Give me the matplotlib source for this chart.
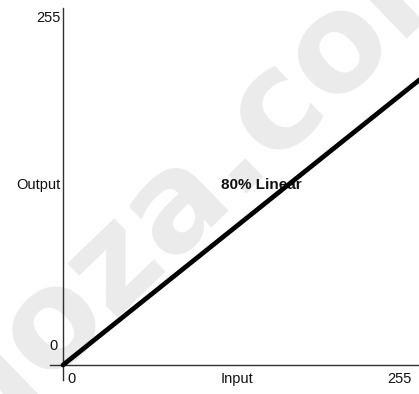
import matplotlib
matplotlib.use("Agg")
import matplotlib.pyplot as plt

# transfer curve: output = gain * input, clipped by the plot frame
input_range = [0, 255]
output_range = [0, 255]
gain = 0.80
curve_label = "80% Linear"
axis_names = ["Input", "Output"]

W, H, DPI = 419, 394, 100
px_per_unit = 347 / 255.0      # same scale on both axes
x0_px, y0_px = 63, 29          # where (0, 0) sits, pixels from left / bottom

fig = plt.figure(figsize=(W / DPI, H / DPI), dpi=DPI)
ax = fig.add_axes([0, 0, 1, 1])
ax.set_xlim(-x0_px / px_per_unit, (W - x0_px) / px_per_unit)
ax.set_ylim(-y0_px / px_per_unit, (H - y0_px) / px_per_unit)
ax.axis("off")

# faint watermark behind everything
ax.text(0.568, 0.503, "doza.com", transform=fig.transFigure, rotation=44,
        rotation_mode="anchor", ha="center", va="baseline",
        fontsize=98, fontweight="bold", color="#ebebeb",
        family="DejaVu Sans", zorder=0)

# axes drawn as plain lines through the origin
ax.plot([0, 0], [-11, 262], color="#303030", lw=1.0, zorder=2)
ax.plot([-9.5, 262], [0, 0], color="#303030", lw=1.0, zorder=2)

# the curve itself, from the origin out past the right edge
x_end = ax.get_xlim()[1] + 5
ax.plot([input_range[0], x_end], [output_range[0], gain * x_end],
        color="black", lw=3.4, zorder=4, solid_capstyle="round")

font = dict(family="Liberation Sans", fontsize=10.5, color="#111111")
ax.text(-1.5, output_range[1], str(output_range[1]), ha="right", va="center", **font)
ax.text(-1.5, output_range[1] / 2 + 5, axis_names[1], ha="right", va="center", **font)
ax.text(-4, 14, str(output_range[0]), ha="right", va="center", **font)
ax.text(3, -10, str(input_range[0]), ha="left", va="center", **font)
ax.text(input_range[1] / 2, -10, axis_names[0], ha="center", va="center", **font)
ax.text(input_range[1] + 1, -10, str(input_range[1]), ha="right", va="center", **font)

ax.text(146, 132, curve_label, ha="center", va="center",
        family="Liberation Sans", fontsize=11, fontweight="bold", color="#111111", zorder=3)

fig.savefig("out.png", dpi=DPI)
